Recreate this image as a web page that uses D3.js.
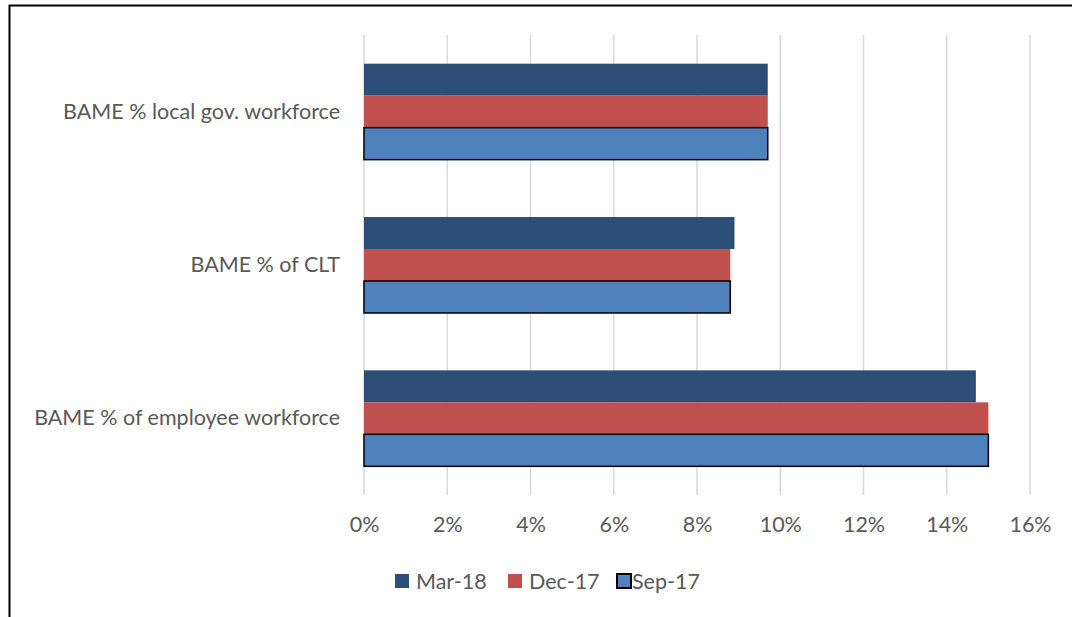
<!DOCTYPE html>
<html>
<head>
<meta charset="utf-8">
<script src="https://cdn.jsdelivr.net/npm/d3@7"></script>
<style>
  body { margin: 0; background: #fff; }
  text { font-family: Lato, "Open Sans", sans-serif; fill: #595959; }
</style>
</head>
<body>
<svg id="chart"></svg>
<script>
// DATA
const categories = ["BAME % local gov. workforce", "BAME % of CLT", "BAME % of employee workforce"];
const seriesNames = ["Mar-18", "Dec-17", "Sep-17"];
const mar18 = [9.7, 8.9, 14.7];
const dec17 = [9.7, 8.8, 15.0];
const sep17 = [9.7, 8.8, 15.0];
const tickValues = [0, 2, 4, 6, 8, 10, 12, 14, 16];

const seriesValues = [mar18, dec17, sep17];
const colors = ["#2D4E76", "#C0504D", "#4F81BD"];

const W = 1072, H = 617;
const margin = { top: 35, right: 42, bottom: 122, left: 364 };
const width = W - margin.left - margin.right;
const height = H - margin.top - margin.bottom;
const fontSize = "21.5px";

const root = d3.select("#chart")
  .attr("width", W)
  .attr("height", H);

// outer frame (only top & left visible)
root.append("rect")
  .attr("x", 9.5)
  .attr("y", 5.5)
  .attr("width", 1200)
  .attr("height", 800)
  .attr("fill", "none")
  .attr("stroke", "#000")
  .attr("stroke-width", 2);

const svg = root.append("g")
  .attr("transform", `translate(${margin.left}, ${margin.top})`);

// SCALES
const x = d3.scaleLinear()
  .domain([0, 16])
  .range([0, width]);

const y = d3.scaleBand()
  .domain(categories)
  .range([0, height])
  .paddingInner(0.374)
  .paddingOuter(0.187);

const ySub = d3.scaleBand()
  .domain(seriesNames)
  .range([0, y.bandwidth()]);

// GRID
svg.append("g")
  .selectAll("line")
  .data(tickValues)
  .enter()
  .append("line")
  .attr("x1", d => x(d))
  .attr("x2", d => x(d))
  .attr("y1", 0)
  .attr("y2", height)
  .attr("stroke", "#d9d9d9")
  .attr("stroke-width", 1.5);

// AXIS LABELS
const xAxis = d3.axisBottom(x)
  .tickValues(tickValues)
  .tickFormat(d => d + "%")
  .tickSize(0)
  .tickPadding(22);

svg.append("g")
  .attr("transform", `translate(0, ${height})`)
  .call(xAxis)
  .call(g => g.select(".domain").remove())
  .selectAll("text")
  .style("font-size", fontSize)
  .style("font-family", "Lato, sans-serif")
  .attr("fill", "#595959");

const yAxis = d3.axisLeft(y)
  .tickSize(0)
  .tickPadding(24);

svg.append("g")
  .call(yAxis)
  .call(g => g.select(".domain").remove())
  .selectAll("text")
  .style("font-size", fontSize)
  .style("font-family", "Lato, sans-serif")
  .attr("fill", "#595959");

// BARS
const groups = svg.selectAll(".cat")
  .data(categories)
  .enter()
  .append("g")
  .attr("class", "cat")
  .attr("transform", d => `translate(0, ${y(d)})`);

groups.selectAll("rect")
  .data((c, i) => seriesNames.map((s, j) => ({ s: s, j: j, v: seriesValues[j][i] })))
  .enter()
  .append("rect")
  .attr("x", x(0))
  .attr("y", d => ySub(d.s))
  .attr("width", d => x(d.v) - x(0))
  .attr("height", ySub.bandwidth())
  .attr("fill", d => colors[d.j])
  .attr("stroke", d => d.j === 2 ? "#000" : "none")
  .attr("stroke-width", 1.5);

// LEGEND
const legendX = [395, 508, 617];
const legend = root.append("g")
  .selectAll("g")
  .data(seriesNames)
  .enter()
  .append("g")
  .attr("transform", (d, i) => `translate(${legendX[i]}, 574)`);

legend.append("rect")
  .attr("width", 14)
  .attr("height", 14)
  .attr("fill", (d, i) => colors[i])
  .attr("stroke", (d, i) => i === 2 ? "#000" : "none")
  .attr("stroke-width", 2);

legend.append("text")
  .attr("x", (d, i) => i === 2 ? 15 : 21)
  .attr("y", 14.5)
  .style("font-size", fontSize)
  .text(d => d);
</script>
</body>
</html>
